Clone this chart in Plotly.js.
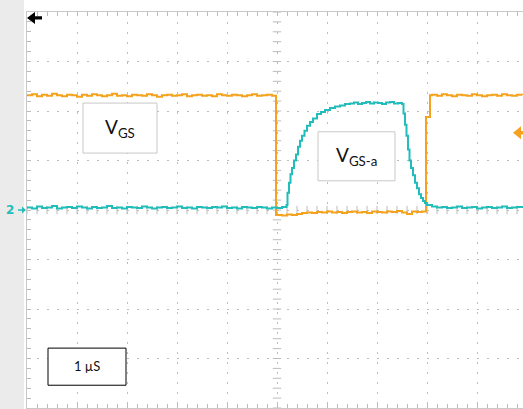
<!DOCTYPE html>
<html>
<head>
<meta charset="utf-8">
<script src="https://cdn.plot.ly/plotly-3.0.1.min.js"></script>
<style>html,body{margin:0;padding:0;background:#fff;}#chart{width:523px;height:409px;}</style>
</head>
<body>
<div id="chart"></div>
<script>
// Time in microseconds (1 µs/div, trigger at 0), voltage in screen divisions
const vgsTime = [-5.0,-4.9,-4.8,-4.7,-4.6,-4.5,-4.4,-4.3,-4.2,-4.1,-4.0,-3.9,-3.8,-3.7,-3.6,-3.5,-3.4,-3.3,-3.2,-3.1,
  -3.0,-2.9,-2.8,-2.7,-2.6,-2.5,-2.4,-2.3,-2.2,-2.1,-2.0,-1.9,-1.8,-1.7,-1.6,-1.5,-1.4,-1.3,-1.2,-1.1,
  -1.0,-0.9,-0.8,-0.7,-0.6,-0.5,-0.4,-0.3,-0.2,-0.1,-0.02,
  0.1,0.2,0.3,0.4,0.5,0.6,0.7,0.8,0.9,1.0,1.1,1.2,1.3,1.4,1.5,1.6,1.7,1.8,1.9,2.0,2.1,2.2,2.3,2.4,2.5,2.6,2.7,2.8,2.9,
  2.98,3.06,
  3.1,3.2,3.3,3.4,3.5,3.6,3.7,3.8,3.9,4.0,4.1,4.2,4.3,4.4,4.5,4.6,4.7,4.8,4.9];
const vgsValue = [2.32,2.34,2.30,2.33,2.31,2.35,2.32,2.30,2.33,2.32,2.29,2.33,2.31,2.34,2.32,2.30,2.32,2.35,2.31,2.32,
  2.30,2.33,2.32,2.31,2.34,2.32,2.29,2.32,2.33,2.31,2.32,2.34,2.30,2.32,2.33,2.31,2.32,2.30,2.34,2.32,
  2.31,2.33,2.32,2.30,2.32,2.34,2.31,2.32,2.33,2.31,-0.10,
  -0.11,-0.09,-0.10,-0.08,-0.06,-0.05,-0.06,-0.04,-0.05,-0.03,-0.05,-0.04,-0.06,-0.04,-0.03,-0.05,-0.04,-0.06,-0.03,-0.04,-0.05,-0.03,-0.04,-0.02,-0.05,-0.08,-0.03,-0.04,-0.03,
  1.88,2.32,
  2.33,2.31,2.34,2.32,2.30,2.33,2.32,2.31,2.34,2.32,2.30,2.32,2.33,2.31,2.34,2.32,2.31,2.33,2.32];

const vgsaTime = [-5.0,-4.9,-4.8,-4.7,-4.6,-4.5,-4.4,-4.3,-4.2,-4.1,-4.0,-3.9,-3.8,-3.7,-3.6,-3.5,-3.4,-3.3,-3.2,-3.1,
  -3.0,-2.9,-2.8,-2.7,-2.6,-2.5,-2.4,-2.3,-2.2,-2.1,-2.0,-1.9,-1.8,-1.7,-1.6,-1.5,-1.4,-1.3,-1.2,-1.1,
  -1.0,-0.9,-0.8,-0.7,-0.6,-0.5,-0.4,-0.3,-0.2,-0.1,0.0,0.1,
  0.19,0.21,0.24,0.27,0.30,0.34,0.38,0.42,0.46,0.50,0.55,0.60,0.66,0.72,0.80,0.88,0.96,1.06,1.16,1.26,1.36,
  1.46,1.54,1.62,1.70,1.78,1.86,1.94,2.02,2.10,2.18,2.26,2.34,2.42,2.50,
  2.53,2.56,2.59,2.62,2.65,2.68,2.72,2.76,2.80,2.84,2.88,2.92,2.96,3.00,
  3.1,3.2,3.3,3.4,3.5,3.6,3.7,3.8,3.9,4.0,4.1,4.2,4.3,4.4,4.5,4.6,4.7,4.8,4.9];
const vgsaValue = [0.05,0.03,0.07,0.04,0.05,0.08,0.03,0.05,0.06,0.04,0.07,0.05,0.03,0.06,0.04,0.05,0.08,0.04,0.05,0.03,
  0.06,0.05,0.04,0.07,0.05,0.03,0.05,0.06,0.04,0.05,0.07,0.04,0.05,0.03,0.06,0.05,0.04,0.06,0.05,0.07,
  0.04,0.05,0.03,0.06,0.05,0.04,0.06,0.05,0.03,0.05,0.04,0.06,
  0.10,0.35,0.55,0.72,0.85,1.00,1.12,1.28,1.40,1.50,1.60,1.70,1.78,1.85,1.94,1.98,2.02,2.06,2.09,2.11,2.14,
  2.15,2.17,2.14,2.16,2.18,2.15,2.17,2.16,2.14,2.17,2.18,2.15,2.16,2.14,
  1.95,1.72,1.50,1.22,1.00,0.85,0.70,0.55,0.44,0.32,0.24,0.18,0.14,0.10,
  0.07,0.05,0.06,0.04,0.05,0.07,0.04,0.05,0.06,0.03,0.05,0.06,0.04,0.05,0.07,0.04,0.05,0.06,0.04];

const xDivisions = [-5, 5];
const yDivisions = [-4, 4];
const subDiv = 0.2;

const orange = '#F5A31F';
const teal = '#22BDBA';
const gridCol = '#bcbcbc';
const frameCol = '#c8c8c8';

// crosshair sub-division ticks (screen decoration)
const hx = [], hy = [], vx = [], vy = [];
for (let i = 0; i <= (xDivisions[1]-xDivisions[0])/subDiv; i++) { hx.push(xDivisions[0] + i*subDiv); hy.push(0); }
for (let i = 0; i <= (yDivisions[1]-yDivisions[0])/subDiv; i++) { vy.push(yDivisions[0] + i*subDiv); vx.push(0); }

const traces = [
  {x: hx, y: hy, mode: 'markers', type: 'scatter', hoverinfo: 'skip',
   marker: {symbol: 'line-ns', size: 6, line: {color: gridCol, width: 1}}},
  {x: vx, y: vy, mode: 'markers', type: 'scatter', hoverinfo: 'skip',
   marker: {symbol: 'line-ew', size: 6, line: {color: gridCol, width: 1}}},
  {x: vgsTime, y: vgsValue, mode: 'lines', type: 'scatter', name: 'VGS',
   line: {color: orange, width: 2, shape: 'hv'}},
  {x: vgsaTime, y: vgsaValue, mode: 'lines', type: 'scatter', name: 'VGS-a',
   line: {color: teal, width: 2, shape: 'hv'}}
];

const fontFam = 'Lato, "Open Sans", sans-serif';

// marker anchors (screen positions in divisions)
const triggerPos = [-5, 3.88];
const triggerLevel = [4.72, 1.56];
const ch2Ground = 0;
const ch2GroundPaper = (ch2Ground - yDivisions[0]) / (yDivisions[1] - yDivisions[0]);

const layout = {
  width: 523, height: 409,
  margin: {l: 27, r: 0, t: 12, b: 1, pad: 0},
  paper_bgcolor: '#ffffff', plot_bgcolor: '#ffffff',
  showlegend: false, hovermode: false,
  xaxis: {range: [-5, 4.92], dtick: 1, tick0: 0, showticklabels: false,
    showgrid: true, gridcolor: gridCol, griddash: '2px,8px', gridwidth: 1,
    zeroline: false, showline: true, linecolor: frameCol, linewidth: 1, mirror: 'ticks',
    ticks: 'inside', ticklen: 4, tickcolor: gridCol,
    minor: {dtick: 0.2, tick0: 0, ticks: 'inside', ticklen: 4, tickcolor: gridCol, showgrid: false}},
  yaxis: {range: yDivisions, dtick: 1, tick0: 0, showticklabels: false,
    showgrid: true, gridcolor: gridCol, griddash: '2px,8px', gridwidth: 1,
    zeroline: false, showline: true, linecolor: frameCol, linewidth: 1,
    ticks: 'inside', ticklen: 4, tickcolor: gridCol,
    minor: {dtick: 0.2, tick0: 0, ticks: 'inside', ticklen: 4, tickcolor: gridCol, showgrid: false}},
  shapes: [
    {type: 'rect', xref: 'paper', yref: 'paper', x0: -0.06, x1: -0.006, y0: -0.01, y1: 1.04,
     fillcolor: '#ebebeb', line: {width: 0}, layer: 'below'},
    {type: 'rect', xref: 'x', yref: 'y', x0: -3.88, x1: -2.40, y0: 1.15, y1: 2.16,
     fillcolor: '#ffffff', line: {color: '#c8c8c8', width: 1}, layer: 'above'},
    {type: 'rect', xref: 'x', yref: 'y', x0: 0.82, x1: 2.36, y0: 0.59, y1: 1.58,
     fillcolor: '#ffffff', line: {color: '#c8c8c8', width: 1}, layer: 'above'},
    {type: 'rect', xref: 'x', yref: 'y', x0: -4.58, x1: -3.02, y0: -3.54, y1: -2.79,
     fillcolor: '#ffffff', line: {color: '#000000', width: 1}, layer: 'above'},
    {type: 'path', xref: 'x', yref: 'y', xsizemode: 'pixel', ysizemode: 'pixel',
     xanchor: triggerPos[0], yanchor: triggerPos[1],
     path: 'M0,0 L8,6 L8,1.6 L15,1.6 L15,-1.6 L8,-1.6 L8,-6 Z',
     fillcolor: '#000000', line: {width: 0}, layer: 'above'},
    {type: 'path', xref: 'x', yref: 'y', xsizemode: 'pixel', ysizemode: 'pixel',
     xanchor: triggerLevel[0], yanchor: triggerLevel[1],
     path: 'M0,0 L8,6.5 L8,1.8 L12,1.8 L12,-1.8 L8,-1.8 L8,-6.5 Z',
     fillcolor: orange, line: {width: 0}, layer: 'above'},
    {type: 'path', xref: 'paper', yref: 'paper', xsizemode: 'pixel', ysizemode: 'pixel',
     xanchor: 0, yanchor: ch2GroundPaper,
     path: 'M-1,0 L-5,3.5 L-5,0.8 L-9,0.8 L-9,-0.8 L-5,-0.8 L-5,-3.5 Z',
     fillcolor: teal, line: {width: 0}, layer: 'above'}
  ],
  annotations: [
    {x: -3.14, y: 1.66, xref: 'x', yref: 'y', text: 'V<sub>GS</sub>', showarrow: false,
     font: {family: fontFam, size: 19, color: '#111'}},
    {x: 1.59, y: 1.10, xref: 'x', yref: 'y', text: 'V<sub>GS-a</sub>', showarrow: false,
     font: {family: fontFam, size: 19, color: '#111'}},
    {x: -3.80, y: -3.16, xref: 'x', yref: 'y', text: '1 µS', showarrow: false,
     font: {family: fontFam, size: 13, color: '#111'}},
    {x: -5, y: ch2Ground, xref: 'x', yref: 'y', xshift: -17, text: '<b>2</b>', showarrow: false,
     font: {family: 'DejaVu Sans', size: 12, color: teal}}
  ]
};

Plotly.newPlot('chart', traces, layout, {displayModeBar: false, staticPlot: true});
</script>
</body>
</html>
